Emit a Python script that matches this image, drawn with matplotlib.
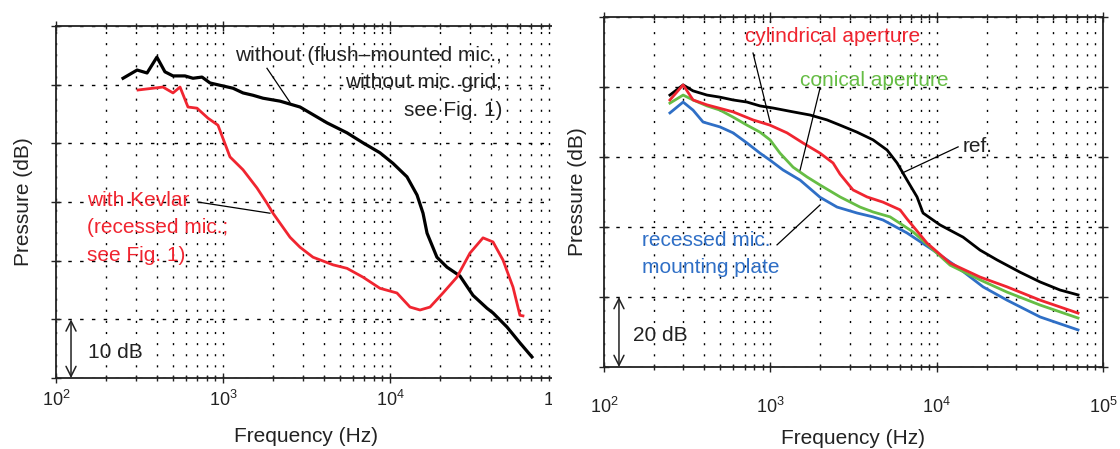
import numpy as np
import matplotlib.pyplot as plt
from matplotlib.patches import Rectangle
from matplotlib.ticker import LogLocator, NullFormatter

plt.rcParams['font.family'] = ['Liberation Sans', 'DejaVu Sans']
plt.rcParams['mathtext.fontset'] = 'custom'
plt.rcParams['mathtext.rm'] = 'Liberation Sans'
plt.rcParams['mathtext.it'] = 'Liberation Sans:italic'

#%% left: flush-mounted mic vs Kevlar cover (dB, relative)

f_without = [252, 306, 351, 402, 449, 502, 592, 661, 749, 836, 960, 1148, 1318,
             1513, 1736, 2194, 2892, 4197, 5530, 6890, 8710, 10420, 12640, 14520,
             15770, 16670, 19100, 21940, 26240, 31410, 38100, 41400, 50200, 60000, 70800]
p_without = [51.1, 52.5, 52.0, 54.7, 52.2, 51.5, 51.5, 51.1, 51.3, 50.3, 49.9, 49.4, 48.6,
             48.2, 47.7, 47.2, 46.2, 43.5, 41.8, 40.1, 38.4, 36.6, 34.3, 31.2,
             28.1, 24.7, 20.6, 18.9, 17.4, 14.1, 11.9, 11.1, 8.7, 6.0, 3.6]

f_kevlar = [310, 437, 502, 553, 617, 699, 813, 933, 1101, 1318, 1598, 1834, 1992, 2520,
            2892, 3459, 4560, 5530, 6890, 8710, 11010, 13180, 15130, 17370, 20770,
            25180, 30130, 36060, 41400, 47530, 54550, 60000, 62560]
p_kevlar = [49.1, 49.6, 48.6, 49.6, 46.2, 46.0, 44.3, 43.1, 37.7, 35.5, 32.4, 29.8, 28.1, 24.0,
            22.3, 20.6, 19.3, 18.7, 17.2, 15.3, 14.5, 12.1, 11.6, 12.1, 14.5,
            17.2, 21.3, 23.9, 23.2, 20.1, 15.5, 10.7, 10.6]

#%% right: aperture shapes

f_ref = [249, 299, 343, 416, 498, 597, 724, 867, 1038, 1370, 1733, 2193, 2626, 3321,
         4146, 5032, 5781, 6637, 7621, 8282, 10475, 14420, 18240, 23070, 31700,
         41880, 55200, 70800]
p_ref = [77.7, 80.6, 78.9, 77.7, 77.1, 76.3, 75.7, 74.6, 74.0, 72.9, 72.0, 70.6, 69.1, 67.1,
         64.9, 62.0, 58.3, 53.4, 48.6, 44.0, 40.6, 37.1, 33.4, 30.6, 27.1,
         24.3, 22.0, 20.6]

f_cyl = [249, 299, 343, 416, 597, 787, 996, 1260, 1573, 1990, 2383, 2626, 3141, 3811,
         4761, 6026, 6637, 8752, 12040, 18240, 26490, 41880, 70800]
p_cyl = [76.3, 80.6, 76.3, 74.9, 72.9, 70.6, 69.1, 66.9, 64.0, 61.1, 58.3, 55.1, 50.6, 48.6,
         47.1, 44.9, 42.3, 35.4, 29.7, 25.7, 22.9, 19.1, 15.4]

f_con = [249, 299, 343, 416, 498, 597, 724, 867, 996, 1143, 1370, 1663, 1990, 2626,
         3461, 4146, 5248, 7212, 9126, 12040, 18240, 26490, 41880, 70800]
p_con = [75.4, 77.7, 76.3, 74.6, 73.4, 71.4, 69.1, 67.1, 64.9, 61.1, 57.1, 54.3, 52.0, 48.6,
         45.7, 44.3, 42.9, 38.6, 34.3, 29.1, 24.9, 21.4, 17.7, 14.0]

f_rec = [249, 299, 343, 394, 498, 597, 724, 867, 996, 1192, 1510, 1990, 2518, 3321,
         4146, 4761, 6637, 9509, 13270, 19010, 26490, 41880, 70800]
p_rec = [72.6, 75.7, 73.4, 70.0, 68.6, 66.9, 64.0, 61.1, 59.1, 56.3, 53.4, 48.5, 45.7, 44.0,
         42.9, 42.0, 38.3, 33.4, 28.6, 22.9, 19.1, 14.3, 10.6]

RED = '#f02530'
GREEN = '#66bd45'
BLUE = '#2f6fc6'
INK = '#222222'
FS = 15


def style_axes(ax, ymax, ystep, xpad):
    ax.set_xscale('log')
    ax.set_xlim(1e2, 1e5)
    ax.set_ylim(0, ymax)
    ax.set_yticks(np.arange(0, ymax + 1, ystep))
    ax.xaxis.set_minor_locator(LogLocator(base=10, subs=np.arange(2, 10)))
    ax.xaxis.set_minor_formatter(NullFormatter())
    ax.tick_params(which='both', direction='inout', top=True, right=True,
                   labelleft=False, width=1, colors=INK)
    ax.tick_params(which='major', length=7)
    ax.tick_params(which='minor', length=5)
    ax.tick_params(axis='x', labelsize=13, pad=xpad, labelcolor=INK)
    ax.grid(which='both', axis='x', color='k', lw=1, ls=(0, (1.5, 6.5)))
    ax.grid(which='major', axis='y', color='k', lw=1, ls=(0, (2.5, 6)))
    for s in ax.spines.values():
        s.set_linewidth(1.3)
        s.set_color(INK)
    ax.set_xlabel('Frequency (Hz)', fontsize=FS, color=INK)
    ax.set_ylabel('Pressure (dB)', fontsize=FS, color=INK)


fig = plt.figure(figsize=(11.2, 4.49), dpi=100)

#%% left panel
ax1 = fig.add_axes([0.05, 0.158, 0.4473, 0.784])
style_axes(ax1, 60, 10, 5)
ax1.xaxis.labelpad = 12
ax1.yaxis.labelpad = 13

ax1.plot(f_without, p_without, 'k-', lw=2.3)
ax1.plot(f_kevlar, p_kevlar, '-', color=RED, lw=2.0)

ax1.text(46900, 50.3, 'without (flush\u2013mounted mic.,\nwithout mic. grid;\nsee Fig. 1)',
         ha='right', va='center', multialignment='right', fontsize=FS,
         color=INK, linespacing=1.55)
ax1.plot([1834, 2518], [52.8, 47.0], 'k-', lw=0.9)

ax1.text(153, 25.6, 'with Kevlar\n(recessed mic.;\nsee Fig. 1)', ha='left', va='center',
         fontsize=FS, color=RED, linespacing=1.55)
ax1.plot([708, 1910], [30.0, 28.1], 'k-', lw=0.9)

ax1.annotate('', xy=(123, 0), xytext=(123, 10),
             arrowprops=dict(arrowstyle='<->', lw=1.1, color=INK,
                             mutation_scale=18, shrinkA=0, shrinkB=0))
ax1.text(156, 4.4, '10 dB', ha='left', va='center', fontsize=FS, color=INK)

#%% right panel
ax2 = fig.add_axes([0.5393, 0.1826, 0.4455, 0.7795])
ax2.set_zorder(1)
style_axes(ax2, 100, 20, 18)
ax2.xaxis.labelpad = 9
ax2.yaxis.labelpad = 9

ax2.plot(f_ref, p_ref, 'k-', lw=2.0)
ax2.plot(f_rec, p_rec, '-', color=BLUE, lw=2.0)
ax2.plot(f_con, p_con, '-', color=GREEN, lw=2.0)
ax2.plot(f_cyl, p_cyl, '-', color=RED, lw=2.0)

ax2.text(705, 94.3, 'cylindrical aperture', ha='left', va='center', fontsize=FS, color=RED)
ax2.plot([787, 996], [89.7, 70.0], 'k-', lw=0.9)
ax2.text(1510, 82.0, 'conical aperture', ha='left', va='center', fontsize=FS, color=GREEN)
ax2.plot([1990, 1510], [79.7, 56.3], 'k-', lw=0.9)
ax2.text(14420, 62.9, 'ref.', ha='left', va='center', fontsize=FS, color=INK)
ax2.plot([13460, 6190], [62.9, 55.4], 'k-', lw=0.9)
ax2.text(169, 32.3, 'recessed mic.\nmounting plate', ha='left', va='center',
         fontsize=FS, color=BLUE, linespacing=1.55)
ax2.plot([1097, 1990], [34.9, 46.3], 'k-', lw=0.9)

ax2.annotate('', xy=(123, 0), xytext=(123, 20),
             arrowprops=dict(arrowstyle='<->', lw=1.1, color=INK,
                             mutation_scale=18, shrinkA=0, shrinkB=0))
ax2.text(149, 9.1, '20 dB', ha='left', va='center', fontsize=FS, color=INK)

# left panel is trimmed at its right edge (drawn under the right panel)
fig.add_artist(Rectangle((0.4929, 0), 0.042, 1, transform=fig.transFigure,
                         facecolor='white', edgecolor='none', zorder=0.5))

plt.savefig('out.png', dpi=100)
